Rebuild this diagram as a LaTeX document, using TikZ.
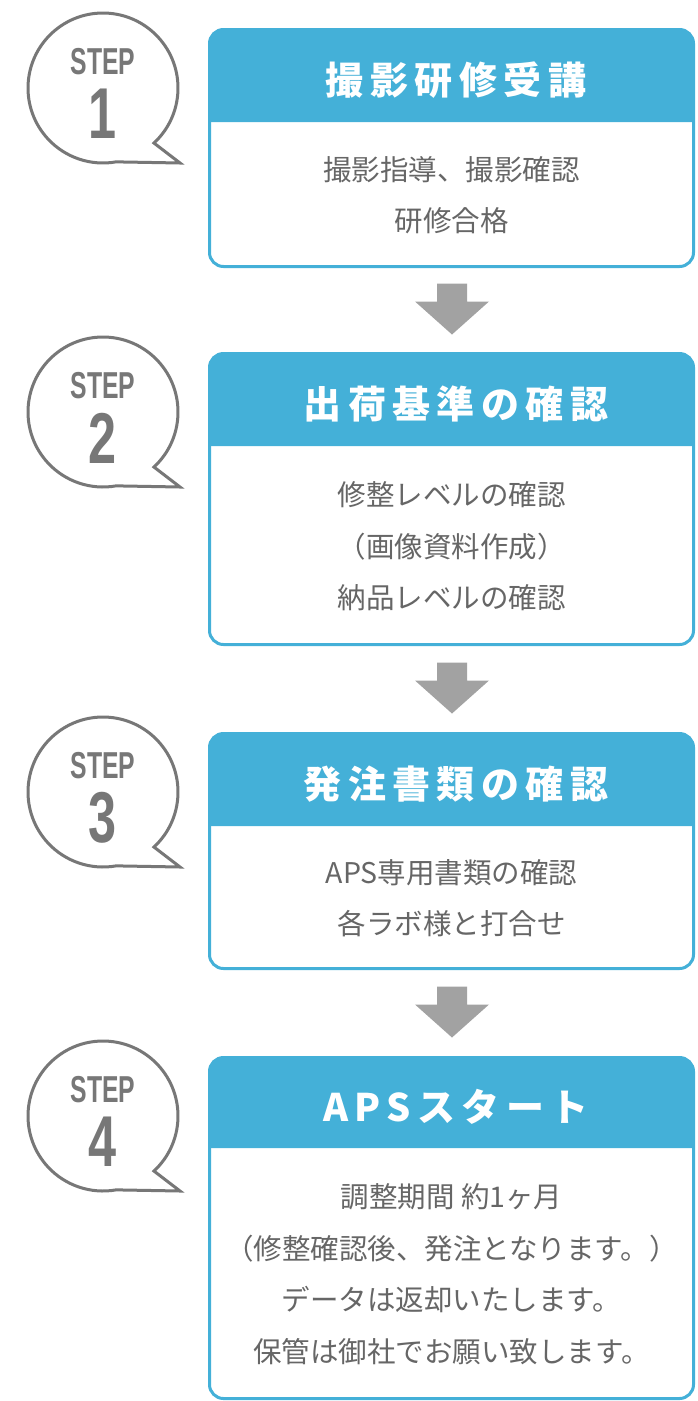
\documentclass[tikz,border=0pt]{standalone}
\usepackage{fontspec}
\newfontfamily\jp{Noto Sans CJK JP}
\newfontfamily\jph{Noto Sans CJK JP}[LetterSpace=17]
\newfontfamily\stepfont{Liberation Sans}
\definecolor{hdrblue}{HTML}{44B0D8}
\definecolor{txtgray}{HTML}{666666}
\definecolor{bubgray}{HTML}{777777}
\definecolor{arrgray}{HTML}{A2A2A2}
\tikzset{
  boxframe/.style={draw=hdrblue, line width=3pt, fill=white, rounded corners=14pt},
  hdrfill/.style={fill=hdrblue},
  hdrtext/.style={text=white, inner sep=0pt, font={\jph\bfseries\fontsize{38pt}{40pt}\selectfont}},
  bodytext/.style={text=txtgray, inner sep=0pt, align=center, font={\jp\fontsize{28.5pt}{51.5pt}\selectfont}},
  bubble/.style={draw=bubgray, line width=3pt, fill=white, line join=miter},
  steplabel/.style={text=bubgray, inner sep=0pt, font={\stepfont\bfseries\fontsize{37.5pt}{40pt}\selectfont}},
  stepnumber/.style={text=bubgray, inner sep=0pt, font={\stepfont\bfseries\fontsize{72pt}{74pt}\selectfont}},
  blockarrow/.style={fill=arrgray}
}
\newcommand{\drawbubble}[2]{%
  \draw[bubble] (103,#1) ++(47.2:75) arc[start angle=47.2, end angle=-280, radius=75] -- (180,#1+75) -- cycle;
  \node[steplabel] (step#2) at (103,#1-26) {\scalebox{0.66}[1]{STEP}};
  \node[stepnumber] (num#2) at (103,#1+26) {\scalebox{0.7}[1]{#2}};
}
\newcommand{\drawblock}[6]{%
  % #1 name, #2 top, #3 header bottom, #4 bottom, #5 title, #6 body
  \path (209.5,#2) coordinate (#1nw) (693.5,#4) coordinate (#1se) (693.5,#3) coordinate (#1hb);
  \draw[boxframe] (#1nw) rectangle (#1se);
  \fill[hdrfill] (209.5,#3) {[rounded corners=14pt] -- (#1nw) -- (693.5,#2)} -- (#1hb) -- cycle;
  \node[hdrtext] (#1title) at ($(451.5,#2)!0.5!(451.5,#3)+(4.5,4)$) {#5};
  \node[bodytext] (#1body) at ($(451.5,#3)!0.5!(451.5,#4)+(0,1)$) {#6};
}
\newcommand{\drawarrow}[1]{%
  \fill[blockarrow] (#1) ++(-15,0) -- ++(30,0) -- ++(0,18) -- ++(22,0) -- ++(-37,33) -- ++(-37,-33) -- ++(22,0) -- cycle;
}
\usetikzlibrary{calc}
\begin{document}
\begin{tikzpicture}[x=1pt,y=-1pt]
\useasboundingbox (0,0) rectangle (697,1401);
\fill[white] (0,0) rectangle (697,1401);

\drawblock{b1}{29.5}{122}{266.5}{撮影研修受講}{撮影指導、撮影確認\\研修合格}
\drawblock{b2}{353.5}{446}{644.5}{出荷基準の確認}{修整レベルの確認\\（画像資料作成）\\納品レベルの確認}
\drawblock{b3}{733.5}{826}{968.5}{発注書類の確認}{APS専用書類の確認\\各ラボ様と打合せ}
\drawblock{b4}{1057.5}{1148}{1398.5}{APSスタート}{調整期間 約1ヶ月\\（修整確認後、発注となります。）\\データは返却いたします。\\保管は御社でお願い致します。}

\drawbubble{88}{1}
\drawbubble{412}{2}
\drawbubble{792}{3}
\drawbubble{1116}{4}

\coordinate (a1) at ($(b1se)!0.5!(209.5,266.5)+(0.5,17)$);
\coordinate (a2) at ($(b2se)!0.5!(209.5,644.5)+(0.5,18)$);
\coordinate (a3) at ($(b3se)!0.5!(209.5,968.5)+(0.5,18)$);
\drawarrow{a1}
\drawarrow{a2}
\drawarrow{a3}
\end{tikzpicture}
\end{document}
